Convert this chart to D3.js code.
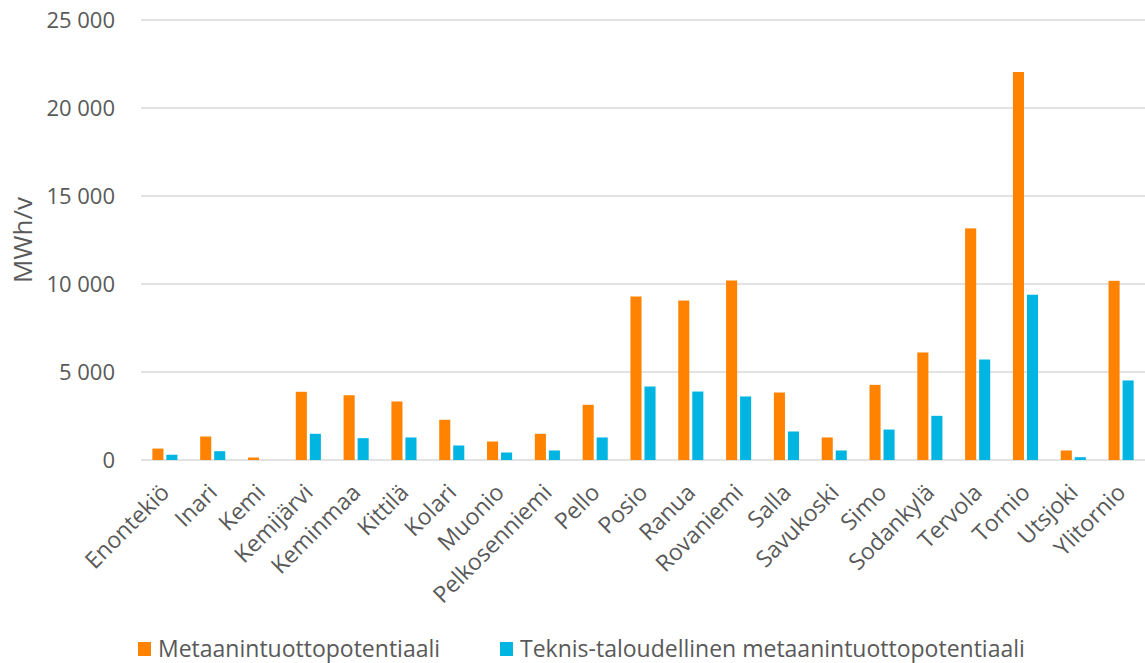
<!DOCTYPE html>
<html>
<head>
<meta charset="utf-8">
<script src="https://cdn.jsdelivr.net/npm/d3@7"></script>
<style>
  body { margin: 0; background: #fff; }
  text { font-family: "Open Sans", "Noto Sans", sans-serif; fill: #595959; }
</style>
</head>
<body>
<div class="viz"></div>
<script>
const municipalities = ['Enontekiö', 'Inari', 'Kemi', 'Kemijärvi', 'Keminmaa', 'Kittilä', 'Kolari', 'Muonio',
    'Pelkosenniemi', 'Pello', 'Posio', 'Ranua', 'Rovaniemi', 'Salla', 'Savukoski', 'Simo', 'Sodankylä',
    'Tervola', 'Tornio', 'Utsjoki', 'Ylitornio'];
const potential = [650, 1335, 140, 3875, 3680, 3325, 2285, 1050, 1490, 3135, 9290, 9060, 10200, 3835, 1280,
    4270, 6110, 13160, 22045, 540, 10180];
const technoEconomic = [300, 500, 0, 1490, 1240, 1280, 825, 425, 540, 1280, 4175, 3890, 3610, 1620, 540,
    1730, 2510, 5710, 9390, 160, 4520];
const seriesNames = ['Metaanintuottopotentiaali', 'Teknis-taloudellinen metaanintuottopotentiaali'];
const seriesColors = ['#ff8300', '#00b5e2'];
const yTicks = [0, 5000, 10000, 15000, 20000, 25000];

const w = 1145;
const h = 663;
const margin = { top: 20, right: 0, bottom: 203, left: 141 };

const svg = d3.select('.viz').append('svg')
    .attr('width', w)
    .attr('height', h);

const x0 = d3.scaleBand()
    .domain(municipalities)
    .range([margin.left, w - margin.right]);

const x1 = d3.scaleBand()
    .domain([0, 1])
    .range([0, x0.bandwidth()])
    .paddingInner(0.21)
    .paddingOuter(0.81);

const y = d3.scaleLinear()
    .domain([0, 25000])
    .range([h - margin.bottom, margin.top]);

const fmt = v => d3.format(',')(v).replace(/,/g, ' ');

// gridlines
svg.append('g')
    .selectAll('line')
    .data(yTicks)
    .enter()
    .append('line')
    .attr('x1', margin.left)
    .attr('x2', w - margin.right)
    .attr('y1', d => y(d))
    .attr('y2', d => y(d))
    .attr('stroke', '#d9d9d9')
    .attr('stroke-width', 1.5);

// y tick labels
svg.append('g')
    .selectAll('text')
    .data(yTicks)
    .enter()
    .append('text')
    .attr('x', 115)
    .attr('y', d => y(d))
    .attr('dy', '0.35em')
    .attr('text-anchor', 'end')
    .style('font-size', '22px')
    .text(d => fmt(d));

svg.append('text')
    .attr('transform', `translate(32, ${(y(0) + y(25000)) / 2}) rotate(-90)`)
    .attr('text-anchor', 'middle')
    .style('font-size', '26px')
    .text('MWh/v');

// bars
const rows = municipalities.map((m, i) => ({ name: m, values: [potential[i], technoEconomic[i]] }));

const groups = svg.append('g')
    .selectAll('g')
    .data(rows)
    .enter()
    .append('g')
    .attr('transform', d => `translate(${x0(d.name)},0)`);

groups.selectAll('rect')
    .data(d => d.values.map((v, k) => ({ k, v })))
    .enter()
    .append('rect')
    .attr('x', d => x1(d.k))
    .attr('width', x1.bandwidth())
    .attr('y', d => y(d.v))
    .attr('height', d => y(0) - y(d.v))
    .attr('fill', d => seriesColors[d.k]);

// x labels
svg.append('g')
    .selectAll('text')
    .data(municipalities)
    .enter()
    .append('text')
    .attr('transform', d => `translate(${x0(d) + x0.bandwidth() / 2 + 6}, 494) rotate(-45)`)
    .attr('text-anchor', 'end')
    .style('font-size', '23px')
    .text(d => d);

// legend
const legend = svg.append('g')
    .selectAll('g')
    .data(seriesNames)
    .enter()
    .append('g')
    .attr('transform', (d, i) => `translate(${i === 0 ? 138 : 500}, 649)`);

legend.append('rect')
    .attr('x', 0)
    .attr('y', -7)
    .attr('width', 13)
    .attr('height', 14)
    .attr('fill', (d, i) => seriesColors[i]);

legend.append('text')
    .attr('x', 20)
    .attr('dy', '0.35em')
    .style('font-size', '23px')
    .text(d => d);
</script>
</body>
</html>
